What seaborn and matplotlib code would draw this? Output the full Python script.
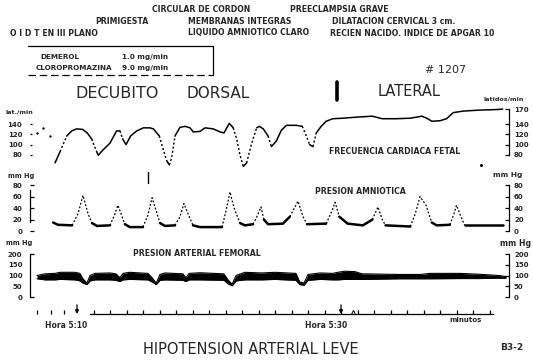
import numpy as np
import matplotlib
matplotlib.use("Agg")
import matplotlib.pyplot as plt
import seaborn as sns

# ---------------------------------------------------------
# Data (time = minutes after Hora 5:10)
# ---------------------------------------------------------
fhr_t = [-1.33, -1.03, -0.62, -0.32, -0.02, 0.34, 0.62, 0.89, 1.19, 1.29,
         1.59, 2.0, 2.4, 2.6, 2.77, 2.97, 3.25, 3.62, 4.02, 4.42,
         4.63, 4.99, 5.23, 5.44, 5.6, 5.74, 5.94, 6.24, 6.55, 6.85,
         7.05, 7.45, 7.76, 8.26, 8.67, 8.91, 9.23, 9.47, 9.68, 9.88,
         10.08, 10.28, 10.59, 10.89, 11.05, 11.29, 11.58, 11.78, 12.08, 12.38,
         12.69, 13.29, 13.65, 13.9, 14.1, 14.3, 14.5, 14.8, 15.1, 15.5,
         16.1, 16.9, 17.9, 18.5, 19.35, 20.2, 20.9, 21.2, 21.5, 22.0,
         22.4, 22.8, 23.4, 24.4, 25.4, 25.8]
fhr_bpm = [64, 86, 117, 127, 131, 130, 123, 111, 86, 79,
           90, 103, 127, 127, 111, 100, 117, 127, 133, 133,
           131, 117, 90, 68, 60, 75, 117, 134, 136, 133,
           125, 126, 133, 131, 125, 123, 142, 133, 111, 79,
           57, 64, 103, 133, 136, 131, 117, 96, 107, 128,
           138, 138, 136, 117, 100, 96, 123, 136, 146, 151,
           152, 154, 156, 151, 151, 152, 156, 152, 146, 147,
           151, 163, 166, 168, 169, 170]
fhr_dot_t = [-2.44, -2.04, -1.64]
fhr_dot_bpm = [123, 133, 117]

amn_t = [-1.45, -1.15, -0.3, 0.06, 0.36, 0.67, 0.91, 1.21, 2.0, 2.3,
         2.48, 2.67, 2.9, 3.2, 4.0, 4.3, 4.55, 4.8, 5.03, 5.33,
         5.94, 6.24, 6.48, 6.73, 7.03, 7.45, 8.79, 9.03, 9.27, 9.52,
         9.88, 10.18, 10.67, 10.9, 11.15, 11.33, 11.58, 12.48, 12.9, 13.39,
         13.7, 13.94, 15.1, 15.45, 15.64, 15.9, 16.4, 17.33, 17.9, 18.24,
         18.5, 18.7, 20.2, 20.5, 20.79, 21.15, 21.5, 21.8, 22.6, 22.85,
         23.0, 23.27, 23.5, 25.8]
amn_mmhg = [15, 11, 10, 30, 62, 30, 14, 9, 10, 30,
            45, 30, 12, 7, 7, 28, 58, 35, 14, 9,
            10, 25, 48, 30, 10, 7, 7, 35, 68, 40,
            14, 10, 12, 25, 42, 20, 12, 13, 25, 52,
            25, 12, 13, 35, 50, 25, 13, 10, 20, 42,
            20, 10, 8, 30, 60, 45, 15, 10, 11, 30,
            45, 25, 10, 10]

art_t = [-2.42, -1.94, -1.33, -1.03, -0.12, 0.18, 0.36, 0.6, 0.79, 1.09,
         2.0, 2.36, 2.6, 2.79, 3.2, 4.3, 4.55, 4.8, 5.03, 5.33,
         6.42, 6.6, 6.79, 7.45, 8.9, 9.15, 9.4, 9.64, 10.18, 11.2,
         12.0, 13.27, 13.5, 13.76, 14.0, 14.73, 15.5, 15.8, 16.24, 16.85,
         17.27, 19.58, 20.8, 21.4, 23.2, 24.4, 25.6, 26.0]
art_sys = [100, 108, 110, 115, 115, 110, 85, 65, 100, 110,
           112, 108, 90, 110, 115, 110, 90, 65, 105, 112,
           108, 90, 110, 113, 108, 80, 60, 100, 115, 112,
           115, 110, 70, 65, 105, 112, 110, 115, 120, 118,
           108, 105, 105, 110, 110, 106, 100, 95]
art_dia = [85, 80, 80, 82, 80, 75, 65, 58, 75, 80,
           80, 78, 72, 80, 82, 80, 70, 58, 78, 80,
           78, 72, 80, 80, 78, 62, 52, 75, 80, 80,
           82, 78, 58, 55, 78, 82, 80, 80, 82, 82,
           82, 85, 85, 85, 86, 86, 88, 88]

fhr_left_ticks = [140, 120, 100, 80]
fhr_right_ticks = [170, 140, 120, 100, 80]
amn_ticks = [80, 60, 40, 20, 0]
art_ticks = [200, 150, 100, 50, 0]
minute_ticks = list(range(1, 26))
pre_ticks = [-2.4, -1.6, -0.8]
hour_marks = [0, 16]
hour_labels = ["Hora 5:10", "Hora 5:30"]

header = [
    (152, 9, "CIRCULAR DE CORDON"), (290, 9, "PREECLAMPSIA GRAVE"),
    (95, 21, "PRIMIGESTA"), (188, 21, "MEMBRANAS INTEGRAS"),
    (332, 21, "DILATACION CERVICAL 3 cm."),
    (10, 33, "O I D T EN III PLANO"), (188, 33, "LIQUIDO AMNIOTICO CLARO"),
    (330, 33, "RECIEN NACIDO. INDICE DE APGAR 10"),
]
drugs = [("DEMEROL", "1.0 mg/min"), ("CLOROPROMAZINA", "9.0 mg/min")]

# ---------------------------------------------------------
# Figure layout (pixel based, 533 x 362)
# ---------------------------------------------------------
sns.set_theme(style="white")
plt.rcParams["font.family"] = ["DejaVu Sans"]
plt.rcParams["font.weight"] = "bold"

W, H = 533, 362
X0_PX, PX_MIN = 77.0, 16.5
L_PX, R_PX = 30, 509
TICK_FS = 5


def to_t(px):
    return (px - X0_PX) / PX_MIN


XLIM = (to_t(L_PX), to_t(R_PX))
fig = plt.figure(figsize=(W / 100, H / 100), dpi=100)
fig.patch.set_facecolor("white")


def rect(l, t, r, b):
    return [l / W, 1 - b / H, (r - l) / W, (b - t) / H]


def panel(top, bottom, ylim):
    ax = fig.add_axes(rect(L_PX, top, R_PX, bottom))
    ax.set_xlim(XLIM)
    ax.set_ylim(ylim)
    ax.patch.set_alpha(0)
    for s in ax.spines.values():
        s.set_visible(False)
    ax.set_xticks([])
    axr = ax.twinx()
    axr.set_ylim(ylim)
    axr.patch.set_alpha(0)
    for s in axr.spines.values():
        s.set_visible(False)
    axr.set_xticks([])
    return ax, axr


def style_ticks(ax, side, ticks, bounds=None, length=3, pad=5.5):
    ax.set_yticks(ticks)
    ax.set_yticklabels([str(v) for v in ticks])
    ax.tick_params(axis="y", which="both", direction="in", length=length,
                   width=0.9, color="black", pad=pad, labelsize=TICK_FS,
                   left=(side == "left"), right=(side == "right"),
                   labelleft=(side == "left"), labelright=(side == "right"))
    if bounds is not None:
        sp = ax.spines[side]
        sp.set_visible(True)
        sp.set_color("black")
        sp.set_linewidth(0.9)
        sp.set_bounds(*bounds)


def draw_trace(ax, t, v, steep, lw_solid, lw_dot):
    t = np.asarray(t, float)
    v = np.asarray(v, float)
    is_steep = np.abs(np.diff(v) / np.diff(t)) > steep
    start = 0
    for i in range(1, len(is_steep) + 1):
        if i == len(is_steep) or is_steep[i] != is_steep[start]:
            seg = slice(start, i + 1)
            dotted = is_steep[start]
            sns.lineplot(x=t[seg], y=v[seg], ax=ax, color="black",
                         lw=lw_dot if dotted else lw_solid,
                         linestyle=(0, (1.5, 1.5)) if dotted else "-",
                         estimator=None, sort=False)
            start = i
    ax.set_xlabel("")
    ax.set_ylabel("")


# Fetal heart rate
ax1, ax1r = panel(104, 170, (50, 180))
draw_trace(ax1, fhr_t, fhr_bpm, 75, 1.1, 1.0)
sns.scatterplot(x=fhr_dot_t, y=fhr_dot_bpm, ax=ax1, color="black", s=3,
                linewidth=0)
style_ticks(ax1, "left", fhr_left_ticks, length=1.5)
style_ticks(ax1r, "right", fhr_right_ticks, bounds=(80, 170), pad=3.6)

# Amniotic pressure
ax2, ax2r = panel(173.5, 234, (-5, 100))
draw_trace(ax2, amn_t, amn_mmhg, 40, 1.8, 0.9)
style_ticks(ax2, "left", amn_ticks, bounds=(15, 72))
style_ticks(ax2r, "right", amn_ticks, bounds=(0, 80), pad=3.6)

# Femoral arterial pressure
ax3, ax3r = panel(250.8, 299.2, (-10, 215))
ax3.fill_between(art_t, art_dia, art_sys, color="black", lw=0)
sns.lineplot(x=art_t, y=art_sys, ax=ax3, color="black", lw=0.8, estimator=None, sort=False)
sns.lineplot(x=art_t, y=art_dia, ax=ax3, color="black", lw=0.8, estimator=None, sort=False)
ax3.set_xlabel("")
ax3.set_ylabel("")
style_ticks(ax3, "left", art_ticks, bounds=(0, 200))
for i, tk in enumerate(ax3.yaxis.get_major_ticks()):
    if art_ticks[i] not in (0, 200):
        tk.tick1line.set_markersize(0)
style_ticks(ax3r, "right", art_ticks, bounds=(0, 200), pad=3.6)

# Time axis
axt = fig.add_axes(rect(L_PX, 300, R_PX, 314))
axt.set_xlim(XLIM)
axt.set_ylim(0, 1)
axt.patch.set_alpha(0)
for s in axt.spines.values():
    s.set_visible(False)
axt.spines["bottom"].set_visible(True)
axt.spines["bottom"].set_color("black")
axt.spines["bottom"].set_linewidth(0.9)
axt.spines["bottom"].set_bounds(to_t(90), to_t(493))
axt.set_xticks(pre_ticks + minute_ticks)
axt.set_xticklabels([])
axt.set_yticks([])
axt.tick_params(axis="x", direction="in", length=3, width=0.9, color="black",
                bottom=True)
for hm in hour_marks:
    axt.annotate("", xy=(hm, 0.0), xytext=(hm, 0.65),
                 arrowprops=dict(arrowstyle="-|>", lw=0.9, color="black",
                                 mutation_scale=5, shrinkA=0, shrinkB=0))
axt.plot([to_t(353)], [0.15], marker="^", ms=3, mfc="none", mec="black", mew=0.7)

# Overlay for annotations in pixel coordinates
ov = fig.add_axes([0, 0, 1, 1])
ov.set_xlim(0, W)
ov.set_ylim(H, 0)
ov.axis("off")
ov.patch.set_alpha(0)

for x, y, s in header:
    ov.text(x, y, s, fontsize=5.6, ha="left", va="center")

ov.plot([28, 213], [46, 46], color="black", lw=0.9)
ov.plot([213, 213], [46, 75], color="black", lw=0.9)
ov.plot([28, 213], [75, 75], color="black", lw=0.9, linestyle=(0, (6, 3)))
ov.text(40, 57, drugs[0][0], fontsize=5.2, ha="left", va="center")
ov.text(122, 57, drugs[0][1], fontsize=5.2, ha="left", va="center")
ov.text(36, 68, drugs[1][0], fontsize=5.2, ha="left", va="center")
ov.text(122, 68, drugs[1][1], fontsize=5.2, ha="left", va="center")

ov.text(446, 70, "# 1207", fontsize=8, ha="center", va="center", fontweight="normal")
ov.text(75, 93, "DECUBITO", fontsize=11.5, ha="left", va="center", fontweight="normal")
ov.text(187, 93, "DORSAL", fontsize=11, ha="left", va="center", fontweight="normal")
ov.text(378, 91, "LATERAL", fontsize=10.5, ha="left", va="center", fontweight="normal")
ov.plot([337, 337], [82, 100], color="black", lw=2.6)

ov.text(484, 99, "latidos/min", fontsize=4.6, ha="left", va="center")
ov.text(5, 112, "lat./min", fontsize=4.6, ha="left", va="center")
ov.text(395, 151, "FRECUENCIA CARDIACA FETAL", fontsize=5.6, ha="center", va="center")
ov.text(8, 176, "mm Hg", fontsize=4.8, ha="left", va="center")
ov.text(493, 175, "mm Hg", fontsize=5.3, ha="left", va="center")
ov.plot([148, 148], [172, 183], color="black", lw=1.0)
ov.plot([481], [165], marker="o", ms=1.2, color="black")
ov.text(360, 192, "PRESION AMNIOTICA", fontsize=5.6, ha="center", va="center")
ov.text(6, 243, "mm Hg", fontsize=4.8, ha="left", va="center")
ov.text(500, 243, "mm Hg", fontsize=5.6, ha="left", va="center")
ov.text(197, 253, "PRESION ARTERIAL FEMORAL", fontsize=5.6, ha="center", va="center")

ov.text(66, 325, hour_labels[0], fontsize=5.5, ha="center", va="center")
ov.text(326, 325, hour_labels[1], fontsize=5.5, ha="center", va="center")
ov.text(466, 320, "minutos", fontsize=5, ha="center", va="center")

ov.text(251, 350, "HIPOTENSION ARTERIAL LEVE", fontsize=10.5, ha="center",
        va="center", fontweight="normal")
ov.text(512, 347, "B3-2", fontsize=6.5, ha="center", va="center")

fig.savefig("out.png", dpi=100, facecolor="white")
plt.close(fig)
